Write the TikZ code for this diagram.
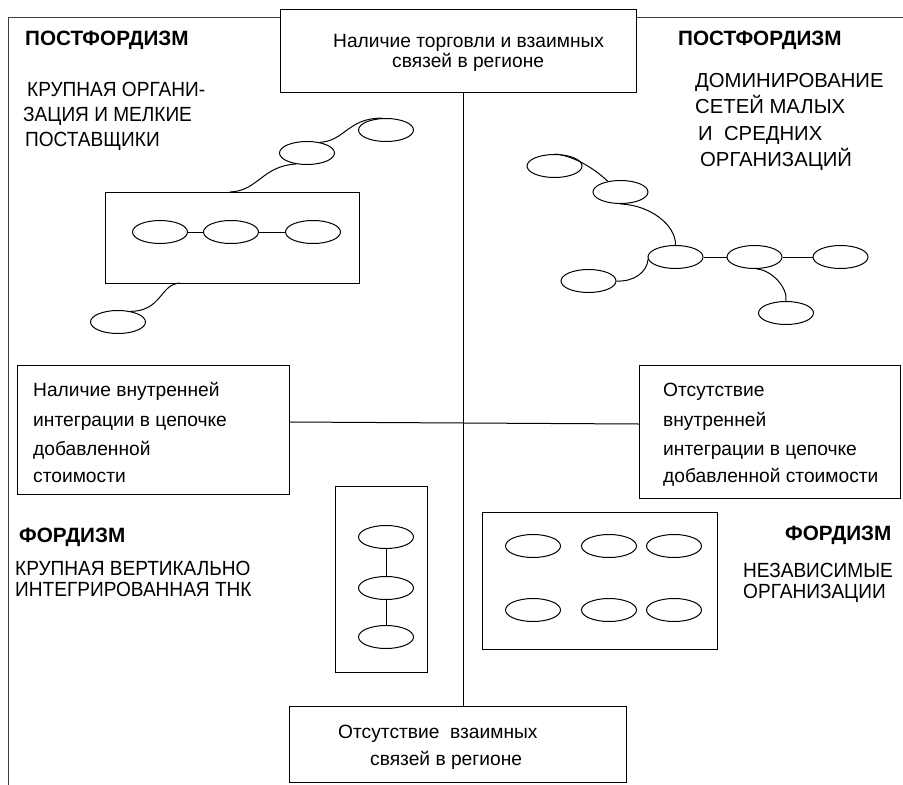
\documentclass[tikz,border=0pt]{standalone}
\usepackage{fontspec}
\setmainfont{Liberation Sans}
\newfontfamily\narrowsans[FakeStretch=0.93]{Liberation Sans}
\usetikzlibrary{shapes.geometric}
\begin{document}
\begin{tikzpicture}[x=1pt,y=-1pt,
  box/.style={draw, line width=1pt, inner sep=0pt, anchor=north west},
  org/.style={draw, ellipse, line width=1pt, minimum width=55pt, minimum height=23pt, inner sep=0pt},
  link/.style={line width=1pt},
  frame/.style={line width=1pt, black!75},
  head/.style={anchor=base west, inner sep=0pt, font=\bfseries\fontsize{20.7}{24}\selectfont},
  caps/.style={anchor=base west, inner sep=0pt, font=\fontsize{20.3}{24}\selectfont},
  capsn/.style={anchor=base west, inner sep=0pt, font=\narrowsans\fontsize{20.5}{24}\selectfont},
  txt/.style={anchor=base west, inner sep=0pt, font=\fontsize{19.2}{22}\selectfont}]
\useasboundingbox (0,0) rectangle (903,785);

% boxes
\node[box, minimum width=356pt, minimum height=83pt] (topbox) at (280,9) {};
\node[box, minimum width=272pt, minimum height=129pt] (leftbox) at (17,365) {};
\node[box, minimum width=261pt, minimum height=133pt] (rightbox) at (639,365) {};
\node[box, minimum width=337pt, minimum height=76pt] (botbox) at (289,706) {};
\node[box, minimum width=254pt, minimum height=91pt] (tlbox) at (105,192) {};
\node[box, minimum width=92pt, minimum height=186pt] (vbox) at (335,486) {};
\node[box, minimum width=235pt, minimum height=137pt] (sixbox) at (482,512) {};

% outer frame
\coordinate (f1) at (8,785);
\coordinate (f2) at (8,17);
\coordinate (f3) at (903,17);
\draw[frame] (f1) -- (f2) -- (f2 -| topbox.west);
\draw[frame] (topbox.east |- f3) -- (f3);

% axes
\coordinate (vx) at (463,0);
\coordinate (hyl) at (0,422);
\coordinate (hyr) at (0,424);
\draw[link] (topbox.south -| vx) -- (botbox.north -| vx);
\draw[link] (leftbox.east |- hyl) -- (rightbox.west |- hyr);

% top-left network
\node[org] (i1) at (160,232) {};
\node[org] (i2) at (231,232) {};
\node[org] (i3) at (313,232) {};
\node[org] (e1) at (307,153) {};
\node[org] (e2) at (386,130) {};
\node[org] (e3) at (118,322) {};
\draw[link] (i1) -- (i2);
\draw[link] (i2) -- (i3);
\coordinate (s1) at (230,192);
\coordinate (s3) at (180,283);
\draw[link] (s1) .. controls (258,191) and (262,166) .. (e1.225);
\draw[link] (e1.40) .. controls (345,141) and (348,118) .. (e2.110);
\draw[link] (s3) .. controls (160,284) and (162,311) .. (e3.40);

% top-right network
\node[org] (a) at (554.5,166) {};
\node[org] (b) at (620.5,192) {};
\node[org] (c) at (675.5,257) {};
\node[org] (d) at (754.5,257) {};
\node[org] (e) at (840.5,257) {};
\node[org] (f) at (588.5,281) {};
\node[org] (g) at (786,313) {};
\draw[link] (a.north) .. controls (572,155) and (594,168) .. (b.140);
\draw[link] (b.south) .. controls (650,205) and (676,225) .. (c.north);
\draw[link] (c) -- (d);
\draw[link] (d) -- (e);
\draw[link] (c.185) .. controls (647,272) and (634,282) .. (f.east);
\draw[link] (d.-80) .. controls (772,270) and (788,288) .. (g.north);

% vertical integrated
\node[org] (v1) at (386,537) {};
\node[org] (v2) at (386,588) {};
\node[org] (v3) at (386,637) {};
\draw[link] (v1) -- (v2);
\draw[link] (v2) -- (v3);

% independent
\node[org] (o1) at (533,546) {};
\node[org] (o2) at (609,546) {};
\node[org] (o3) at (674,546) {};
\node[org] (o4) at (533,610) {};
\node[org] (o5) at (609,610) {};
\node[org] (o6) at (674,610) {};

% texts
\node[head] (h1) at (25,45.7) {ПОСТФОРДИЗМ};
\node[capsn] (t1) at (27,96) {КРУПНАЯ ОРГАНИ-};
\node[capsn] (t2) at (23,121) {ЗАЦИЯ И МЕЛКИЕ};
\node[capsn] (t3) at (25,146) {ПОСТАВЩИКИ};

\node[head] (h2) at (678,45.7) {ПОСТФОРДИЗМ};
\node[caps] (r1) at (695,87.5) {ДОМИНИРОВАНИЕ};
\node[caps] (r2) at (695,113) {СЕТЕЙ МАЛЫХ};
\node[caps] (r3) at (698,140) {И~~СРЕДНИХ};
\node[caps] (r4) at (700,166.7) {ОРГАНИЗАЦИЙ};

\node[txt] (tb1) at (333,47) {Наличие торговли и взаимных};
\node[txt] (tb2) at (392,67) {связей в регионе};

\node[txt] (lb1) at (33,396.7) {Наличие внутренней};
\node[txt] (lb2) at (33,426) {интеграции в цепочке};
\node[txt] (lb3) at (33,455) {добавленной};
\node[txt] (lb4) at (33,482) {стоимости};

\node[txt] (rb1) at (663,396.7) {Отсутствие};
\node[txt] (rb2) at (663,426) {внутренней};
\node[txt] (rb3) at (663,455) {интеграции в цепочке};
\node[txt] (rb4) at (663,482) {добавленной стоимости};

\node[head] (h3) at (19,542.7) {ФОРДИЗМ};
\node[capsn] (l1) at (15,575) {КРУПНАЯ ВЕРТИКАЛЬНО};
\node[capsn] (l2) at (15,596) {ИНТЕГРИРОВАННАЯ ТНК};

\node[head] (h4) at (785,540.7) {ФОРДИЗМ};
\node[capsn] (n1) at (743,577.7) {НЕЗАВИСИМЫЕ};
\node[capsn] (n2) at (743,598.3) {ОРГАНИЗАЦИИ};

\node[txt] (bb1) at (338,738) {Отсутствие~~взаимных};
\node[txt] (bb2) at (370,765) {связей в регионе};
\end{tikzpicture}
\end{document}
